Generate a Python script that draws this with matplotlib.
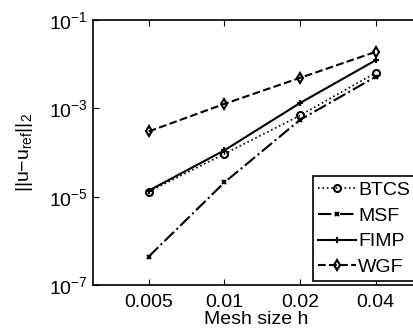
import matplotlib
matplotlib.use("Agg")
import matplotlib.pyplot as plt
import numpy as np

plt.rcParams['font.family'] = ['Liberation Sans', 'DejaVu Sans']
plt.rcParams['mathtext.default'] = 'regular'

h = [0.005, 0.01, 0.02, 0.04]
btcs = [1.3e-5, 9.3e-5, 6.9e-4, 6.4e-3]
msf = [4.4e-7, 2.1e-5, 5.5e-4, 5.2e-3]
fimp = [1.37e-5, 1.12e-4, 1.32e-3, 1.23e-2]
wgf = [3.0e-4, 1.26e-3, 4.9e-3, 1.9e-2]
xtick_labels = ['0.005', '0.01', '0.02', '0.04']

fig = plt.figure(figsize=(4.13, 3.33), dpi=100)
ax = fig.add_axes([0.225, 0.144, 0.792, 0.796])

ax.plot(h, btcs, ':', color='k', lw=1.2, marker='o', ms=5, mfc='none', mew=1.5, label='BTCS')
ax.plot(h, msf, '-.', color='k', lw=1.5, marker='x', ms=3.5, mew=1.5, label='MSF')
ax.plot(h, fimp, '-', color='k', lw=1.5, marker='+', ms=5, mew=1.5, label='FIMP')
ax.plot(h, wgf, '--', color='k', lw=1.5, marker='d', ms=5, mfc='none', mew=1.5, label='WGF')

ax.set_xscale('log')
ax.set_yscale('log')
ax.set_xlim(0.003, 0.06)
ax.set_ylim(1e-7, 1e-1)
ax.set_xticks(h)
ax.set_xticklabels(xtick_labels)
ax.minorticks_off()
ax.set_yticks([1e-7, 1e-5, 1e-3, 1e-1])
ax.tick_params(direction='in', top=True, right=True, labelsize=14, length=4, width=0.8)
ax.tick_params(axis='x', pad=6.5)
for s in ax.spines.values():
    s.set_linewidth(1.2)

ax.set_xlabel('Mesh size h', fontsize=14, labelpad=0)
ax.set_ylabel('||u\u2212u$_{ref}$||$_2$', fontsize=14, labelpad=10)

leg = ax.legend(loc='lower right', bbox_to_anchor=(0.985, 0.015), fontsize=14,
                fancybox=False, edgecolor='k', framealpha=1, borderpad=0.25,
                labelspacing=0.42, handlelength=2.0, handletextpad=0.1, borderaxespad=0)
leg.get_frame().set_linewidth(1.2)

fig.savefig('out.png', dpi=100)
